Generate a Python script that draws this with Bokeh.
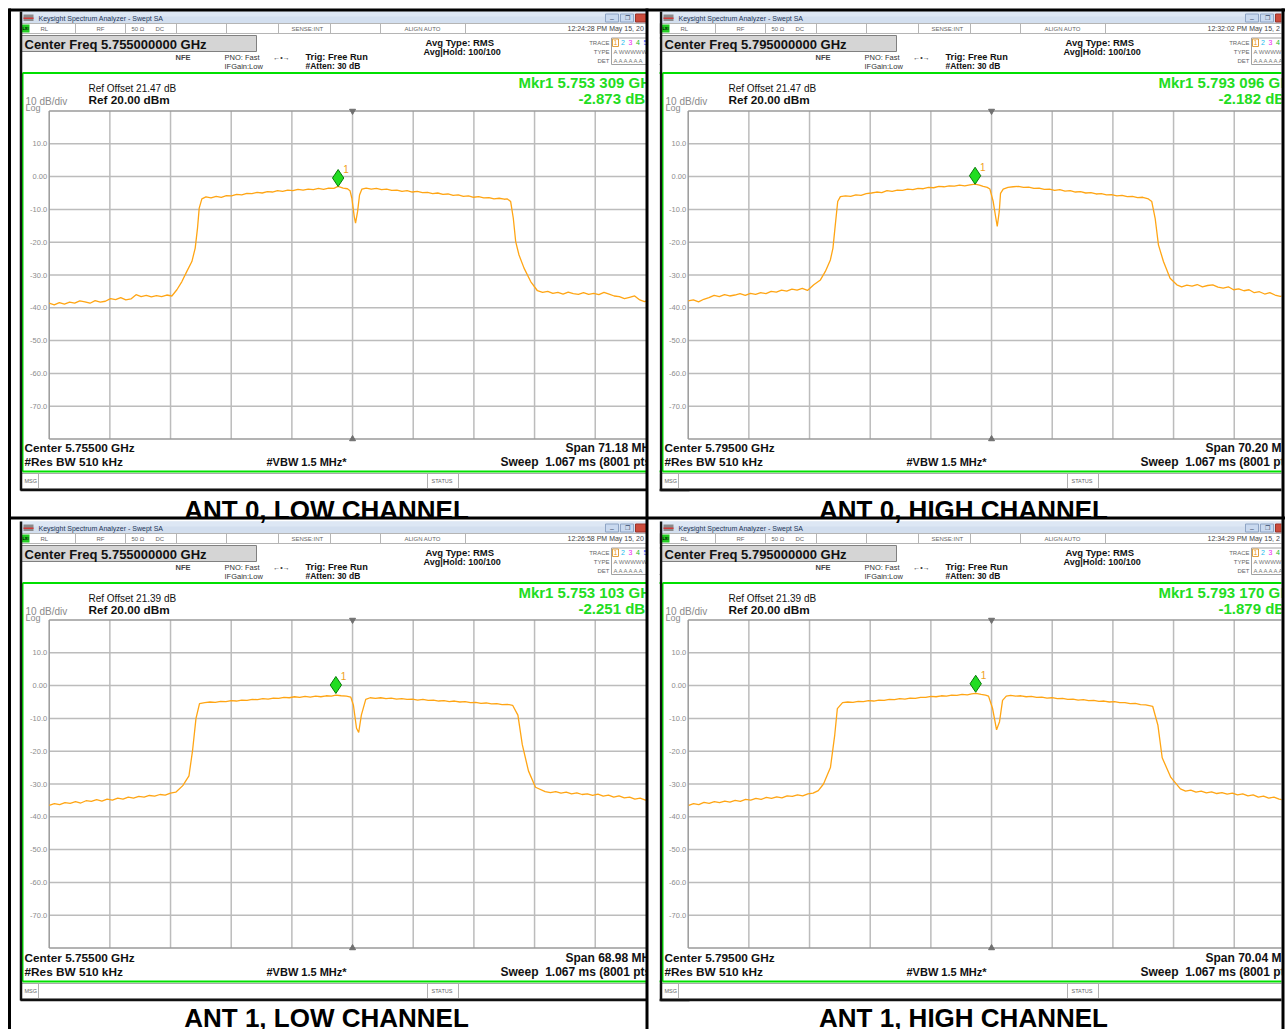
from bokeh.plotting import figure
from bokeh.models import Range1d
from bokeh.core.properties import value
from bokeh.embed import file_html
from bokeh.resources import INLINE

# ---------------- data ----------------
captions = ["ANT 0, LOW CHANNEL", "ANT 0, HIGH CHANNEL", "ANT 1, LOW CHANNEL", "ANT 1, HIGH CHANNEL"]
center_ghz = [5.755, 5.795, 5.755, 5.795]
span_mhz = [71.18, 70.20, 68.98, 70.04]
ref_offset_db = [21.47, 21.47, 21.39, 21.39]
ref_level_dbm = 20.0
db_per_div = 10
mkr_freq_ghz = [5.753309, 5.793096, 5.753103, 5.793170]
mkr_level_dbm = [-2.873, -2.182, -2.251, -1.879]
timestamps = ["12:24:28 PM May 15, 20", "12:32:02 PM May 15, 2", "12:26:58 PM May 15, 20", "12:34:29 PM May 15, 2"]
ytick_vals = [10, 0, -10, -20, -30, -40, -50, -60, -70]
ytick_labels = ["10.0", "0.00", "-10.0", "-20.0", "-30.0", "-40.0", "-50.0", "-60.0", "-70.0"]

# traces: frequency offset from the center frequency (MHz) and level (dBm)
a0l_off = [-35.59, -35.0, -34.4, -33.8, -33.2, -32.6, -32.0, -31.4, -30.8, -30.2, -29.6, -29.0, -28.4, -27.8,
           -27.2, -26.6, -26.0, -25.4, -24.8, -24.2, -23.6, -23.0, -22.4, -21.8, -21.2,
           -20.61, -20.02, -19.44, -18.85, -18.46, -18.19, -17.99, -17.68,
           -17.2, -16.6, -16.0, -15.4, -14.8, -14.2, -13.6, -13.0, -12.4, -11.8, -11.2, -10.6, -10.0, -9.4,
           -8.8, -8.2, -7.6, -7.0, -6.4, -5.8, -5.2, -4.6, -4.0, -3.4, -2.8, -2.2, -1.7, -1.1, -0.6, -0.3,
           -0.08, 0.20, 0.35, 0.59, 0.82, 1.10, 1.6, 2.2, 2.8, 3.4, 4.0, 4.6, 5.2, 5.8, 6.4, 7.0, 7.6, 8.2,
           8.8, 9.4, 10.0, 10.6, 11.2, 11.8, 12.4, 13.0, 13.6, 14.2, 14.8, 15.4, 16.0, 16.6, 17.2, 17.8, 18.16,
           18.55, 18.86, 19.14, 19.53, 20.12, 20.90, 21.69,
           22.3, 22.9, 23.5, 24.1, 24.7, 25.3, 25.9, 26.5, 27.1, 27.7, 28.3, 28.9, 29.5, 30.1, 30.7, 31.3,
           31.9, 32.5, 33.1, 33.7, 34.24, 34.6]
a0l_dbm = [-38.6, -39.1, -38.4, -38.9, -38.3, -38.6, -37.9, -38.2, -38.6, -37.8, -38.3, -38.0, -37.2, -37.5,
           -36.9, -37.6, -37.3, -36.0, -36.6, -36.2, -36.7, -36.3, -36.6, -36.1, -36.4,
           -34.5, -32.0, -28.9, -25.9, -21.8, -15.7, -9.6, -6.8,
           -6.2, -6.5, -6.0, -6.3, -5.8, -5.9, -5.4, -5.6, -5.1, -5.2, -4.8, -5.0, -4.6, -4.7,
           -4.3, -4.5, -4.1, -4.3, -3.9, -4.1, -3.8, -4.0, -3.6, -3.9, -3.5, -3.6, -3.0, -3.5, -3.7, -4.3,
           -6.6, -12.2, -14.2, -10.7, -5.6, -3.8, -3.5, -3.8, -3.6, -4.0, -3.8, -4.2, -4.1, -4.5, -4.3, -4.7, -4.5, -4.9,
           -4.8, -5.2, -5.0, -5.4, -5.3, -5.7, -5.6, -6.0, -5.9, -6.3, -6.1, -6.5, -6.4, -6.8, -6.6, -6.9, -6.8,
           -7.6, -12.7, -19.8, -23.9, -27.9, -32.0, -34.8,
           -35.3, -35.0, -35.6, -35.3, -35.8, -35.2, -35.7, -35.9, -35.4, -35.9, -35.6, -36.0, -35.3, -35.8, -36.4, -36.6,
           -37.2, -36.8, -36.4, -37.6, -38.1, -37.8]

a0h_off = [-35.1, -34.5, -33.9, -33.3, -32.7, -32.1, -31.5, -30.9, -30.3, -29.7, -29.1, -28.5, -27.9, -27.3,
           -26.7, -26.1, -25.5, -24.9, -24.3, -23.7, -23.1, -22.5, -21.9, -21.3,
           -20.57, -19.80, -19.23, -18.65, -18.35, -18.08, -17.80, -17.49,
           -16.9, -16.3, -15.7, -15.1, -14.5, -13.9, -13.3, -12.7, -12.1, -11.5, -10.9, -10.3, -9.7, -9.1,
           -8.5, -7.9, -7.3, -6.7, -6.1, -5.5, -4.9, -4.3, -3.7, -3.1, -2.5, -1.9, -1.4, -0.97, -0.5, -0.19,
           0.19, 0.50, 0.66, 0.89, 1.04, 1.35, 1.9, 2.5, 3.1, 3.7, 4.3, 4.9, 5.5, 6.1, 6.7, 7.3, 7.9, 8.5,
           9.1, 9.7, 10.3, 10.9, 11.5, 12.1, 12.7, 13.3, 13.9, 14.5, 15.1, 15.7, 16.3, 16.9, 17.5, 18.15,
           18.54, 18.93, 19.31, 19.89, 20.66, 21.44,
           22.0, 22.6, 23.2, 23.8, 24.4, 25.0, 25.6, 26.2, 26.8, 27.4, 28.0, 28.6, 29.2, 29.8, 30.4, 31.0,
           31.6, 32.2, 32.8, 33.4, 34.0, 34.6]
a0h_dbm = [-37.9, -37.6, -38.2, -37.4, -36.9, -36.2, -36.6, -36.0, -36.4, -36.1, -35.7, -36.2, -35.6, -35.9,
           -35.4, -35.7, -35.0, -35.2, -34.6, -34.9, -34.3, -34.6, -34.1, -34.7,
           -33.0, -31.5, -28.9, -25.4, -21.8, -14.7, -7.6, -6.1,
           -5.9, -6.0, -5.6, -5.7, -5.2, -5.0, -4.7, -4.9, -4.3, -4.5, -4.1, -4.2, -3.8, -4.0,
           -3.6, -3.7, -3.3, -3.4, -3.0, -3.1, -2.8, -2.9, -2.6, -2.8, -2.5, -2.3, -2.6, -3.0, -3.3, -3.8,
           -7.6, -12.7, -15.2, -10.7, -5.1, -3.8, -3.3, -3.1, -3.0, -3.3, -3.2, -3.6, -3.5, -3.9, -3.8, -4.2, -4.0, -4.4,
           -4.3, -4.7, -4.6, -5.0, -4.9, -5.3, -5.2, -5.6, -5.5, -5.9, -5.7, -6.1, -6.0, -6.4, -6.3, -6.8,
           -7.6, -12.7, -20.8, -25.9, -31.0, -33.0,
           -33.6, -33.1, -33.4, -32.9, -33.6, -33.2, -33.0, -33.7, -34.0, -33.6, -34.5, -34.2, -34.8, -34.5, -35.4, -35.1,
           -35.8, -35.4, -36.1, -36.5, -36.2, -36.7]

a1l_off = [-34.49, -33.9, -33.3, -32.7, -32.1, -31.5, -30.9, -30.3, -29.7, -29.1, -28.5, -27.9, -27.3, -26.7,
           -26.1, -25.5, -24.9, -24.3, -23.7, -23.1, -22.5, -21.9, -21.3, -20.7, -20.1,
           -19.3, -18.6, -18.2, -17.8, -17.4,
           -16.8, -16.2, -15.6, -15.0, -14.4, -13.8, -13.2, -12.6, -12.0, -11.4, -10.8, -10.2, -9.6, -9.0,
           -8.4, -7.8, -7.2, -6.6, -6.0, -5.4, -4.8, -4.2, -3.6, -3.0, -2.4, -1.9, -1.3, -0.7, -0.2,
           0.1, 0.45, 0.7, 1.0, 1.5, 2.0, 2.6, 3.2, 3.8, 4.4, 5.0, 5.6, 6.2, 6.8, 7.4, 8.0, 8.6, 9.2, 9.8,
           10.4, 11.0, 11.6, 12.2, 12.8, 13.4, 14.0, 14.6, 15.2, 15.8, 16.4, 17.0, 17.6, 18.2,
           18.8, 19.3, 20.0, 20.8, 21.9,
           22.5, 23.1, 23.7, 24.3, 24.9, 25.5, 26.1, 26.7, 27.3, 27.9, 28.5, 29.1, 29.7, 30.3, 30.9, 31.5,
           32.1, 32.7, 33.3, 33.9]
a1l_dbm = [-36.5, -36.0, -36.3, -35.7, -35.9, -35.4, -35.8, -35.1, -35.3, -34.8, -35.2, -34.6, -34.9, -34.3,
           -34.6, -34.0, -34.3, -33.8, -34.0, -33.5, -33.7, -33.2, -33.4, -32.8, -32.5,
           -30.5, -27.5, -20.0, -10.0, -5.5,
           -5.2, -5.0, -5.1, -4.8, -4.9, -4.6, -4.7, -4.4, -4.5, -4.2, -4.3, -4.0, -4.1, -3.8,
           -3.9, -3.6, -3.7, -3.4, -3.6, -3.3, -3.5, -3.2, -3.4, -3.1, -3.2, -2.9, -3.1, -3.2, -3.5,
           -6.0, -13.0, -14.3, -9.0, -4.2, -3.7, -3.9, -3.7, -4.0, -3.8, -4.1, -4.0, -4.2, -4.1, -4.4, -4.2, -4.5, -4.4, -4.7,
           -4.6, -4.9, -4.7, -5.0, -4.9, -5.2, -5.1, -5.4, -5.3, -5.6, -5.5, -5.8, -5.7, -6.0,
           -9.0, -18.0, -26.0, -31.0, -32.3,
           -32.6, -32.3, -32.8, -32.5, -33.0, -32.7, -33.2, -33.0, -33.5, -33.1, -33.7, -33.4, -34.0, -33.6, -34.2, -34.0,
           -34.6, -34.3, -34.9, -34.6]

a1h_off = [-34.96, -34.4, -33.8, -33.2, -32.6, -32.0, -31.4, -30.8, -30.2, -29.6, -29.0, -28.4, -27.8, -27.2,
           -26.6, -26.0, -25.4, -24.8, -24.2, -23.6, -23.0, -22.4, -21.8, -21.2, -20.6,
           -20.0, -19.4, -18.6, -18.1, -17.8, -17.2,
           -16.6, -16.0, -15.4, -14.8, -14.2, -13.6, -13.0, -12.4, -11.8, -11.2, -10.6, -10.0, -9.4, -8.8,
           -8.2, -7.6, -7.0, -6.4, -5.8, -5.2, -4.6, -4.0, -3.4, -2.8, -2.3, -1.8, -1.2, -0.7, -0.35,
           0.12, 0.58, 0.92, 1.27, 1.7, 2.2, 2.8, 3.4, 4.0, 4.6, 5.2, 5.8, 6.4, 7.0, 7.6, 8.2, 8.8, 9.4,
           10.0, 10.6, 11.2, 11.8, 12.4, 13.0, 13.6, 14.2, 14.8, 15.4, 16.0, 16.6, 17.2, 17.8, 18.6,
           19.2, 19.7, 20.7, 21.8,
           22.4, 23.0, 23.6, 24.2, 24.8, 25.4, 26.0, 26.6, 27.2, 27.8, 28.4, 29.0, 29.6, 30.2, 30.8, 31.4,
           32.0, 32.6, 33.2, 33.8]
a1h_dbm = [-36.5, -36.0, -36.3, -35.6, -35.9, -35.4, -35.7, -35.2, -35.5, -35.0, -35.3, -34.7, -34.9, -34.4,
           -34.7, -34.1, -34.4, -33.9, -34.2, -33.6, -33.8, -33.3, -33.6, -33.0, -32.8,
           -32.0, -30.0, -25.0, -15.0, -7.0, -5.2,
           -5.0, -5.1, -4.8, -4.9, -4.6, -4.7, -4.4, -4.5, -4.2, -4.3, -4.0, -4.1, -3.8, -3.9,
           -3.6, -3.6, -3.3, -3.4, -3.1, -3.2, -2.9, -3.0, -2.7, -2.8, -2.5, -2.4, -2.7, -2.9, -3.2,
           -7.0, -13.5, -11.0, -4.5, -3.2, -3.0, -3.2, -3.1, -3.4, -3.3, -3.6, -3.5, -3.8, -3.7, -4.0, -3.9, -4.2, -4.1,
           -4.4, -4.3, -4.6, -4.5, -4.8, -4.7, -5.0, -4.9, -5.2, -5.2, -5.5, -5.4, -5.8, -5.9, -6.3,
           -12.0, -22.0, -28.0, -31.5,
           -32.2, -31.9, -32.5, -32.2, -32.7, -32.4, -32.9, -32.6, -33.1, -32.8, -33.3, -33.0, -33.6, -33.3, -34.0, -33.7,
           -34.3, -34.0, -34.6, -34.9]

trace_off = [a0l_off, a0h_off, a1l_off, a1h_off]
trace_dbm = [a0l_dbm, a0h_dbm, a1l_dbm, a1h_dbm]

# ---------------- layout (reference pixel space) ----------------
W, H = 1285, 1029
panels = [dict(ox=0, oy=0, gl=48.7, gt=110.5),
          dict(ox=640, oy=0, gl=687.7, gt=110.5),
          dict(ox=0, oy=510, gl=48.7, gt=619.5),
          dict(ox=640, oy=510, gl=687.7, gt=619.5)]
DX, DY = 60.67, 32.8

p = figure(width=W, height=H, x_range=Range1d(0, W), y_range=Range1d(H, 0),
           output_backend="svg", toolbar_location=None, min_border=0)
p.axis.visible = False
p.grid.visible = False
p.outline_line_color = None
p.background_fill_color = "white"
p.border_fill_color = "white"

SANS = value("Liberation Sans")


def T(x, y, s, size=8, color="#000000", bold=False, align="left", base="middle"):
    p.text(x=[x], y=[y], text=[s], text_font=SANS, text_font_size=f"{size}px", text_color=color,
           text_font_style="bold" if bold else "normal", text_align=align, text_baseline=base)


def box(l, r, t, b, fill, line=None, lw=1):
    p.quad(left=[l], right=[r], top=[t], bottom=[b], fill_color=fill,
           line_color=line, line_width=lw)


GREEN = "#00e000"
NB = "\u00a0"

for k, pn in enumerate(panels):
    ox, oy = pn["ox"], pn["oy"]
    right = 659 + ox

    # screenshot background
    box(20 + ox, right, 11 + oy, 490 + oy, "white")
    # title bar
    box(20 + ox, right, 11 + oy, 23 + oy, "#d3dfef")
    box(20 + ox, right, 11 + oy, 16 + oy, "#dde7f4")
    box(23 + ox, 33 + ox, 14 + oy, 20.5 + oy, "#8a8a8a")
    box(23 + ox, 33 + ox, 17 + oy, 18.5 + oy, "#d23a3a")
    T(38 + ox, 17.5 + oy, "Keysight Spectrum Analyzer - Swept SA", 7, "#1d3557")
    box(605 + ox, 618 + ox, 13.5 + oy, 21.5 + oy, "#c9d9ef", "#8ea4c4")
    box(620 + ox, 633 + ox, 13.5 + oy, 21.5 + oy, "#c9d9ef", "#8ea4c4")
    box(635 + ox, 652 + ox, 13.5 + oy, 21.5 + oy, "#cc4b3c", "#9a3228")
    T(611.5 + ox, 17.5 + oy, "\u2013", 7, "#3b4e6b", align="center")
    T(626.5 + ox, 17.5 + oy, "\u2750", 6, "#3b4e6b", align="center")

    # status row
    box(20 + ox, right, 23 + oy, 33 + oy, "white", "#b5b5b5")
    box(21 + ox, 29 + ox, 24 + oy, 32 + oy, "#22cc22")
    T(25 + ox, 28.3 + oy, "LXI", 4, "#000000", True, align="center")
    for sx in [75, 125, 176, 226, 278, 330, 380, 465]:
        p.segment(x0=[sx + ox], x1=[sx + ox], y0=[23 + oy], y1=[33 + oy], line_color="#b5b5b5", line_width=1)
    for sx, s in [(40, "RL"), (96, "RF"), (131, "50 \u03a9"), (155, "DC"), (291, "SENSE:INT"),
                  (404, "ALIGN AUTO")]:
        T(sx + ox, 28.3 + oy, s, 6, "#666666")
    T(567 + ox, 28.3 + oy, timestamps[k], 7, "#444444")

    # center freq box
    box(21 + ox, 256 + ox, 35 + oy, 51 + oy, "#d5d5d5", "#808080")
    T(24 + ox, 43.5 + oy, f"Center Freq {center_ghz[k]:.9f} GHz", 13, "#111111", True)

    # settings
    T(175 + ox, 56.5 + oy, "NFE", 7.5, "#444444", True)
    T(224 + ox, 56.5 + oy, "PNO: Fast", 7.5, "#333333")
    T(224 + ox, 65.5 + oy, "IFGain:Low", 7.5, "#333333")
    T(281 + ox, 57 + oy, "\u2190\u2022\u2192", 7, "#333333", align="center")
    T(305 + ox, 56 + oy, "Trig: Free Run", 9.2, "#111111", True)
    T(305 + ox, 65 + oy, "#Atten: 30 dB", 8.5, "#111111", True)
    T(425 + ox, 42 + oy, "Avg Type: RMS", 9.5, "#111111", True)
    T(423 + ox, 51.5 + oy, "Avg|Hold: 100/100", 9, "#111111", True)
    T(609 + ox, 42 + oy, "TRACE", 6, "#666666", align="right")
    T(609 + ox, 51 + oy, "TYPE", 6, "#666666", align="right")
    T(609 + ox, 60 + oy, "DET", 6, "#666666", align="right")
    box(611 + ox, 700 + ox, 37.5 + oy, 64 + oy, "white", "#a0a0a0")
    box(612 + ox, 618 + ox, 38.5 + oy, 46 + oy, "white", "#e0a040")
    for i, (c, col) in enumerate([("1", "#f0a020"), ("2", "#22bbee"), ("3", "#ee22ee"), ("4", "#22bb22"),
                                  ("5", "#3355ff"), ("6", "#aa6622")]):
        T(615 + ox + i * 7.5, 42.3 + oy, c, 7, col, align="center")
    T(613 + ox, 51 + oy, "A WWWWW", 6, "#777777")
    T(613 + ox, 60 + oy, "A A A A A A", 6, "#777777")

    # green measurement frame
    p.segment(x0=[22 + ox, 22 + ox, 22 + ox], x1=[right + 30, 22 + ox, right + 30],
              y0=[72.5 + oy, 72.5 + oy, 471 + oy], y1=[72.5 + oy, 471 + oy, 471 + oy],
              line_color=GREEN, line_width=2)

    # marker readout
    fs = f"{mkr_freq_ghz[k]:.6f}"
    T(658 + ox, 82 + oy, f"Mkr1 {fs[:5]} {fs[5:]} GHz", 15, "#22dd22", True, align="right")
    T(658 + ox, 97.5 + oy, f"{mkr_level_dbm[k]:.3f} dBm", 15, "#22dd22", True, align="right")

    T(88 + ox, 88 + oy, f"Ref Offset {ref_offset_db[k]:.2f} dB", 10, "#111111")
    T(88 + ox, 99 + oy, f"Ref {ref_level_dbm:.2f} dBm", 11.8, "#111111", True)
    T(25 + ox, 100.5 + oy, f"{db_per_div} dB/div", 10, "#8a8a8a")
    T(25 + ox, 107.5 + oy, "Log", 9, "#8a8a8a")

    # ---- graticule and trace through scales ----
    fc = center_ghz[k] * 1000.0
    S = span_mhz[k]
    fL = fc - S / 2
    mpp = S / (10 * DX)
    dpp = db_per_div / DY
    xr, yr = f"fx{k}", f"ly{k}"
    p.extra_x_ranges[xr] = Range1d(fL - pn["gl"] * mpp, fL + (W - pn["gl"]) * mpp)
    p.extra_y_ranges[yr] = Range1d(ref_level_dbm - (H - pn["gt"]) * dpp, ref_level_dbm + pn["gt"] * dpp)
    bottom_db = ref_level_dbm - 10 * db_per_div

    hl = [ref_level_dbm - i * db_per_div for i in range(11)]
    vl = [fL + i * S / 10 for i in range(11)]
    p.multi_line(xs=[[fL, fL + S] for _ in hl[1:-1]], ys=[[h, h] for h in hl[1:-1]],
                 line_color="#bcbcbc", line_width=1.5, x_range_name=xr, y_range_name=yr)
    p.multi_line(xs=[[v, v] for v in vl[1:-1]], ys=[[bottom_db, ref_level_dbm] for _ in vl[1:-1]],
                 line_color="#bcbcbc", line_width=1.5, x_range_name=xr, y_range_name=yr)
    p.multi_line(xs=[[fL, fL + S], [fL, fL + S], [fL, fL], [fL + S, fL + S]],
                 ys=[[ref_level_dbm] * 2, [bottom_db] * 2, [bottom_db, ref_level_dbm], [bottom_db, ref_level_dbm]],
                 line_color="#9a9a9a", line_width=1.5, x_range_name=xr, y_range_name=yr)
    p.scatter(x=[fc], y=[ref_level_dbm], marker="inverted_triangle", size=6, color="#707070",
              x_range_name=xr, y_range_name=yr)
    p.scatter(x=[fc], y=[bottom_db], marker="triangle", size=6, color="#707070",
              x_range_name=xr, y_range_name=yr)
    p.text(x=[fL] * len(ytick_vals), y=ytick_vals, text=ytick_labels, x_offset=-2,
           text_font=SANS, text_font_size="7.5px", text_color="#8c8c8c", text_align="right",
           text_baseline="middle", x_range_name=xr, y_range_name=yr)

    p.line(x=[fc + o for o in trace_off[k]], y=trace_dbm[k], line_color="#ffa514", line_width=1.3,
           x_range_name=xr, y_range_name=yr)
    mf = mkr_freq_ghz[k] * 1000.0
    p.scatter(x=[mf], y=[mkr_level_dbm[k] + 8 * dpp], marker="diamond", size=17, fill_color="#22dd22",
              line_color="#0a7a0a", line_width=1, x_range_name=xr, y_range_name=yr)
    p.text(x=[mf], y=[mkr_level_dbm[k]], text=["1"], x_offset=5, y_offset=-17, text_font=SANS,
           text_font_size="10px", text_color="#f0a020", text_baseline="middle",
           x_range_name=xr, y_range_name=yr)

    # footer
    T(24 + ox, 447.5 + oy, f"Center {center_ghz[k]:.5f} GHz", 11.8, "#111111", True)
    T(24 + ox, 461.5 + oy, "#Res BW 510 kHz", 11.8, "#111111", True)
    T(266 + ox, 461.5 + oy, "#VBW 1.5 MHz*", 11, "#111111", True)
    T(565 + ox, 447.5 + oy, f"Span {span_mhz[k]:.2f} MHz", 12, "#111111", True)
    T(500 + ox, 461.5 + oy, f"Sweep {NB}1.067 ms (8001 pts)", 12, "#111111", True)

    # message row
    box(21 + ox, right, 473 + oy, 488 + oy, "white", "#a8a8a8")
    T(24 + ox, 480.5 + oy, "MSG", 5.5, "#666666")
    T(431 + ox, 480.5 + oy, "STATUS", 5.5, "#666666")
    for sx in [38, 427, 458]:
        p.segment(x0=[sx + ox], x1=[sx + ox], y0=[473 + oy], y1=[488 + oy], line_color="#b0b0b0", line_width=1)

    # window frame
    p.segment(x0=[20.5 + ox, 20 + ox], x1=[20.5 + ox, right + 30], y0=[11 + oy, 489.5 + oy],
              y1=[490 + oy, 489.5 + oy], line_color="#111111", line_width=2.5)

# captions
cap_pos = [(326, 509.5), (963, 509.5), (326, 1017), (963, 1017)]
for k, (cx, cy) in enumerate(cap_pos):
    T(cx, cy, captions[k], 26, "#000000", True, align="center", base="middle")

# clip each cell at its border
box(646, 659, 0, H, "white")
box(1281, W, 0, H, "white")
# table rules
p.segment(x0=[8, 9, 646.5, 1282.5, 8], x1=[W, 9, 646.5, 1282.5, W],
          y0=[9.5, 8, 8, 8, 517.5], y1=[9.5, H, H, H, 517.5],
          line_color="#000000", line_width=3)

open("out.html", "w").write(file_html(p, INLINE))
